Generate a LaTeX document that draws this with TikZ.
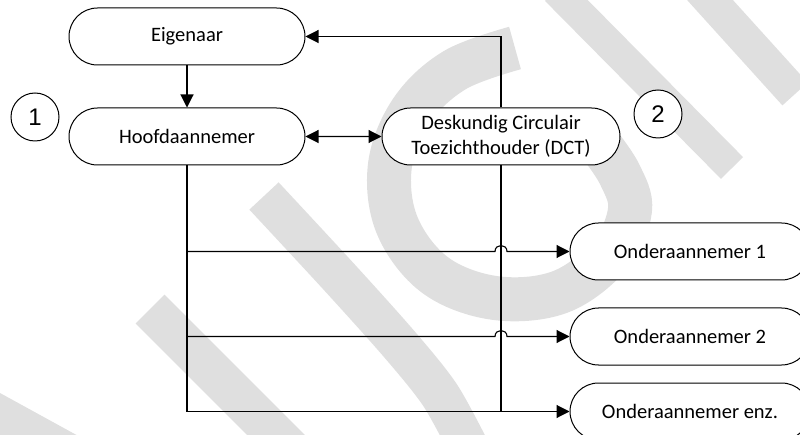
\documentclass[tikz,border=0pt]{standalone}
\usepackage{fontspec}
\setmainfont{Carlito}
\newfontfamily\numfont{Liberation Sans}
\usetikzlibrary{shapes.misc,arrows.meta,calc}
\definecolor{wmgray}{HTML}{DFDFDF}
\begin{document}
\begin{tikzpicture}[x=1pt,y=-1pt,
  box/.style={draw=black, line width=1pt, fill=white, rounded rectangle, minimum height=57pt, inner sep=2pt, font=\fontsize{20.5}{25}\selectfont, align=center},
  num/.style={draw=black, line width=1pt, fill=white, circle, minimum size=48pt, inner sep=0pt, font=\numfont\fontsize{24}{28}\selectfont},
  conn/.style={line width=1.1pt, draw=black},
  arr/.style={conn, -{Triangle[length=13pt,width=13pt]}},
  wm/.style={draw=wmgray, line cap=butt}
]
\useasboundingbox (0,0) rectangle (800,435);
% watermark (background)
\draw[wm, line width=44pt] plot[smooth, tension=0.6] coordinates {(515,48) (455,70) (412,110) (390,165) (397,225) (435,275) (495,298) (560,292) (610,255) (630,210) (620,175) (600,145)};
\draw[wm, line width=31pt] (556,-10) -- (732,168);
\draw[wm, line width=34pt] (700,-11) -- (795,94);
\draw[wm, line width=41pt] (150,309) -- (300,459);
\draw[wm, line width=40pt] plot[smooth, tension=0.5] coordinates {(264,196) (340,278) (400,345) (440,395) (470,450)};
\fill[wmgray] (0,393) -- (82,438) -- (0,438) -- cycle;
% nodes
\node[box, minimum width=240pt] (eig) at (187,36.5) {Eigenaar};
\node[box, minimum width=240pt] (hoofd) at (187,136.5) {Hoofdaannemer};
\node[box, minimum width=242pt] (dct) at (501,136.5) {Deskundig Circulair\\Toezichthouder (DCT)};
\node[box, minimum width=244pt] (on1) at (690,251.5) {Onderaannemer 1};
\node[box, minimum width=244pt] (on2) at (690,336.5) {Onderaannemer 2};
\node[box, minimum width=244pt] (onz) at (690,411.5) {Onderaannemer enz.};
\node[num] (n1) at (35,117) {1};
\node[num] (n2) at (658,114) {2};
% connectors
\draw[arr] (eig) -- (hoofd);
\draw[conn, {Triangle[length=13pt,width=13pt]}-{Triangle[length=13pt,width=13pt]}] (hoofd) -- (dct);
\draw[arr] (dct.north) |- (eig.east);
\coordinate (h1a) at ($(dct.south |- on1.west)+(-6,0)$);
\coordinate (h1b) at ($(dct.south |- on1.west)+(6,0)$);
\coordinate (h2a) at ($(dct.south |- on2.west)+(-6,0)$);
\coordinate (h2b) at ($(dct.south |- on2.west)+(6,0)$);
\draw[conn] (hoofd.south) -- (hoofd.south |- onz.west);
\draw[arr] (hoofd.south |- on1.west) -- (h1a) .. controls ($(h1a)+(0,-8)$) and ($(h1b)+(0,-8)$) .. (h1b) -- (on1.west);
\draw[arr] (hoofd.south |- on2.west) -- (h2a) .. controls ($(h2a)+(0,-8)$) and ($(h2b)+(0,-8)$) .. (h2b) -- (on2.west);
\draw[conn] (dct.south) -- (dct.south |- onz.west);
\draw[arr] (hoofd.south |- onz.west) -- (onz.west);
\end{tikzpicture}
\end{document}
